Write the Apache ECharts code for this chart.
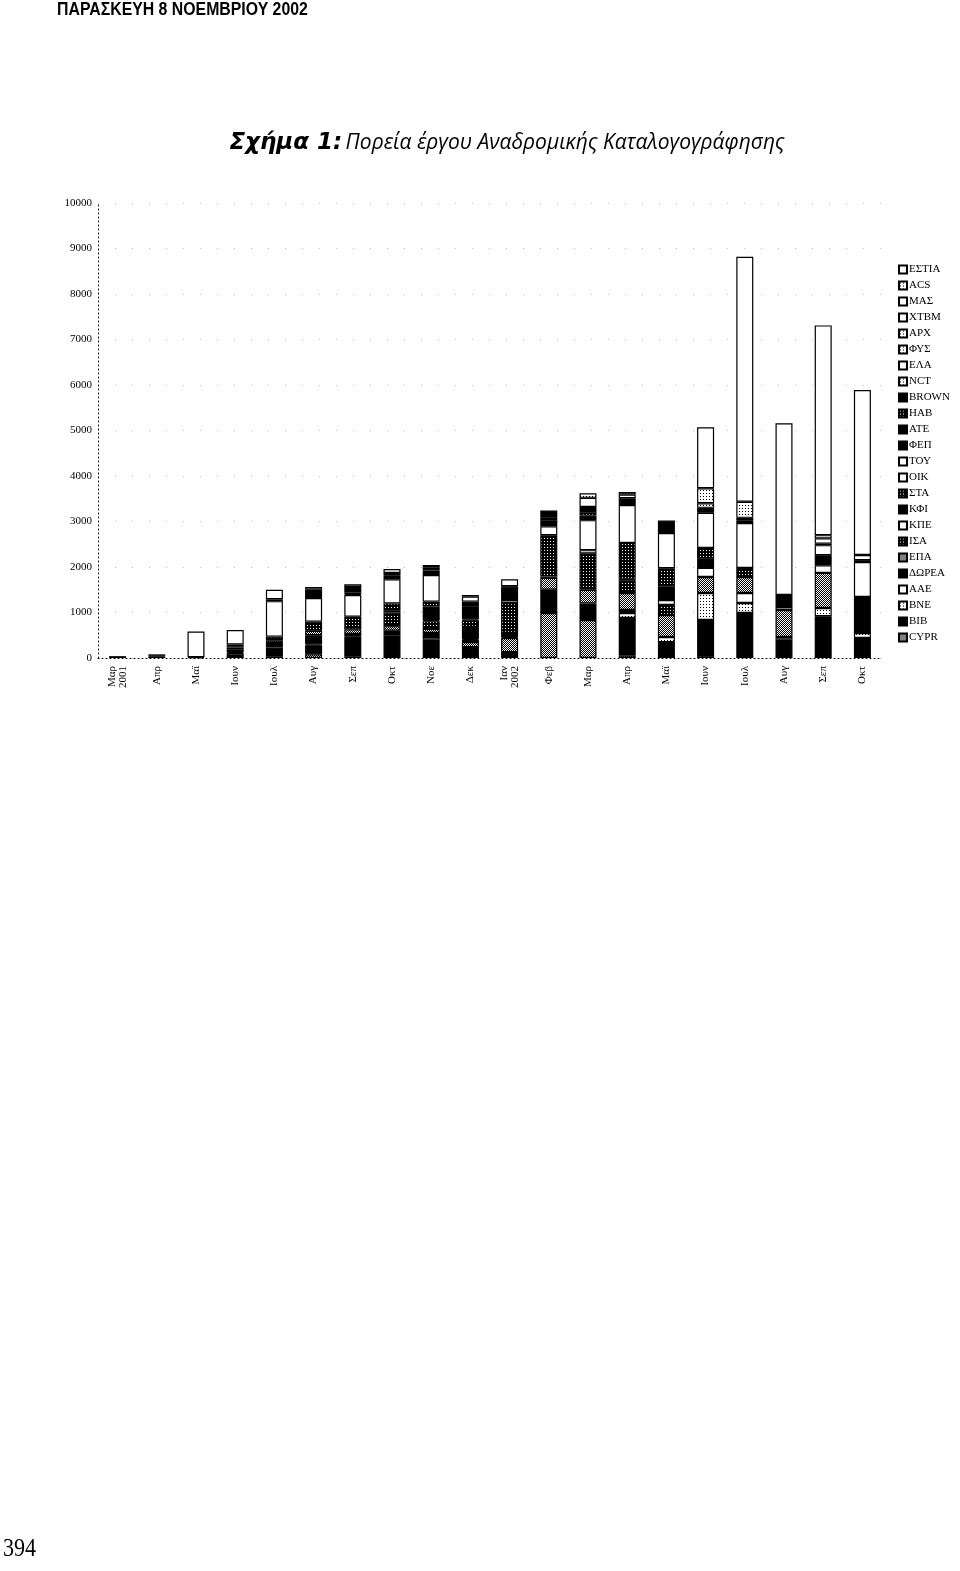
<!DOCTYPE html>
<html><head><meta charset="utf-8">
<script src="https://cdn.jsdelivr.net/npm/echarts@6/dist/echarts.min.js"></script>
<style>html,body{margin:0;padding:0;background:#fff}#c{width:960px;height:1571px}</style>
</head><body><div id="c"></div>
<script>
const categories = ['Μαρ\n2001','Απρ','Μαϊ','Ιουν','Ιουλ','Αυγ','Σεπ','Οκτ','Νοε','Δεκ','Ιαν\n2002','Φεβ','Μαρ','Απρ','Μαϊ','Ιουν','Ιουλ','Αυγ','Σεπ','Οκτ'];
const yTicks = [0,1000,2000,3000,4000,5000,6000,7000,8000,9000,10000];

// series values (bottom of stack first)
const vCYPR  = [0,0,0,0,30,80,30,0,0,0,0,990,835,60,0,40,0,0,0,0];
const vBIB   = [40,30,20,80,200,200,450,500,400,240,130,510,365,820,350,795,990,400,920,440];
const vBNE   = [0,20,0,30,0,20,0,0,60,0,0,0,0,110,110,595,220,60,180,110];
const vAAE   = [0,0,0,20,0,0,0,0,0,0,0,0,0,0,0,0,220,0,0,0];
const vDOREA = [0,30,0,60,100,200,50,100,90,0,0,0,0,65,0,0,0,0,0,790];
const vEPA   = [0,0,0,0,60,100,100,100,90,110,310,260,300,375,485,350,350,595,770,0];
const vISA   = [0,0,0,40,80,200,275,300,170,50,0,0,800,280,220,0,200,0,0,0];
const vKPE   = [0,0,560,30,780,520,480,0,20,20,20,30,70,30,110,200,985,65,170,770];
const vKFI   = [0,0,0,40,40,180,20,50,300,260,90,0,0,0,300,200,65,265,220,40];
const vSTA   = [0,0,0,0,0,0,0,150,110,150,660,910,0,790,400,240,0,0,0,0];
const vOIK   = [0,0,0,315,210,60,40,530,585,20,65,195,660,0,770,770,0,0,220,115];
const vTOY   = [0,0,0,0,0,0,0,0,0,0,0,0,0,830,0,0,0,0,0,0];
const vFEP   = [0,0,0,0,0,0,115,90,100,290,265,120,100,150,275,110,50,0,30,0];
const vATE   = [0,0,0,0,0,0,0,0,60,0,0,80,0,0,0,0,0,0,0,0];
const vHAB   = [0,0,0,0,0,0,0,0,0,0,0,0,60,0,0,0,0,0,0,0];
const vBROWN = [0,0,0,0,0,0,0,50,60,100,0,145,130,0,0,0,0,0,0,0];
const vNCT   = [0,0,0,0,0,0,0,0,0,0,0,0,0,0,0,100,0,0,0,0];
const vELA   = [0,0,0,0,0,0,60,85,0,110,40,0,200,80,0,0,0,0,120,0];
const vFYS   = [0,0,0,0,0,0,0,0,0,0,0,0,0,60,0,0,0,0,0,0];
const vARX   = [0,0,0,0,0,0,0,0,0,0,0,0,100,0,0,0,0,0,0,0];
const vXTBM  = [0,0,0,0,0,0,0,0,0,35,150,0,0,0,0,0,0,0,0,0];
const vMAS   = [0,0,0,0,0,0,0,0,0,0,0,0,0,0,0,0,0,0,70,0];
const vACS   = [0,0,0,0,0,0,0,0,0,0,0,0,0,0,0,330,355,0,0,0];
const vESTIA = [0,0,0,0,0,0,0,0,0,0,0,0,0,0,0,1340,5385,3775,4610,3625];

const stackOrder = [
  ['CYPR',vCYPR,'MP'],['ΒΙΒ',vBIB,'B'],['ΒΝΕ',vBNE,'LP'],['ΑΑΕ',vAAE,'W'],
  ['ΔΩΡΕΑ',vDOREA,'B'],['ΕΠΑ',vEPA,'MP'],['ΙΣΑ',vISA,'DP'],['ΚΠΕ',vKPE,'W'],
  ['ΚΦΙ',vKFI,'B'],['ΣΤΑ',vSTA,'DP'],['ΟΙΚ',vOIK,'W'],['ΤΟΥ',vTOY,'W'],
  ['ΦΕΠ',vFEP,'B'],['ΑΤΕ',vATE,'B'],['ΗΑΒ',vHAB,'DP'],['BROWN',vBROWN,'B'],
  ['NCT',vNCT,'LP'],['ΕΛΑ',vELA,'W'],['ΦΥΣ',vFYS,'LP'],['ΑΡΧ',vARX,'LP'],
  ['ΧΤΒΜ',vXTBM,'W'],['ΜΑΣ',vMAS,'W'],['ACS',vACS,'LP'],['ΕΣΤΙΑ',vESTIA,'W']
];
const legendOrder = ['ΕΣΤΙΑ','ACS','ΜΑΣ','ΧΤΒΜ','ΑΡΧ','ΦΥΣ','ΕΛΑ','NCT','BROWN','ΗΑΒ','ΑΤΕ','ΦΕΠ','ΤΟΥ','ΟΙΚ','ΣΤΑ','ΚΦΙ','ΚΠΕ','ΙΣΑ','ΕΠΑ','ΔΩΡΕΑ','ΑΑΕ','ΒΝΕ','ΒΙΒ','CYPR'];

function pat(bg, fg, size, pts){
  const c = document.createElement('canvas'); c.width = size; c.height = size;
  const g = c.getContext('2d'); g.fillStyle = bg; g.fillRect(0,0,size,size);
  g.fillStyle = fg; pts.forEach(p => g.fillRect(p[0],p[1],1,1));
  return {image:c, repeat:'repeat'};
}
const fills = {
  W:'#ffffff', B:'#000000',
  DP: pat('#000','#fff',3,[[1,1]]),
  MP: pat('#000','#fff',2,[[0,0],[1,1]]),
  LP: pat('#fff','#000',3,[[1,1]])
};

const series = stackOrder.map(([name, vals, f]) => ({
  name, type:'bar', stack:'total', barWidth:17,
  data: vals.map(v => v === 0 ? '-' : v),
  itemStyle:{color:fills[f], borderColor:'#000', borderWidth:1.2},
  emphasis:{disabled:true}
}));

const chart = echarts.init(document.getElementById('c'), null, {renderer:'canvas'});
chart.setOption({
  animation:false,
  backgroundColor:'#fff',
  grid:{left:98, right:78, top:203, bottom:913, containLabel:false},
  xAxis:{type:'category', data:categories,
    axisLine:{show:true, lineStyle:{color:'#000', type:[1,3], width:1}},
    axisTick:{show:false},
    axisLabel:{rotate:90, interval:0, margin:8, color:'#000', fontSize:11, lineHeight:11, fontFamily:'"Liberation Serif", serif'}},
  yAxis:{type:'value', min:0, max:10000, interval:1000,
    axisLine:{show:true, lineStyle:{color:'#000', type:[1,3], width:1}},
    axisTick:{show:false},
    splitLine:{show:true, lineStyle:{color:'#bbb', type:[1,16], width:1}},
    axisLabel:{margin:6, color:'#000', fontSize:11, fontFamily:'"Liberation Serif", serif',
      formatter: v => yTicks.includes(v) ? String(v) : ''}},
  legend:{orient:'vertical', left:893, top:258, itemWidth:8, itemHeight:8, itemGap:3,
    icon:'rect', data:legendOrder, selectedMode:false,
    textStyle:{color:'#000', fontSize:11, lineHeight:13, fontFamily:'"Liberation Serif", serif', padding:[0,0,0,-3]}},
  graphic:[
    {type:'text', left:57, top:1, scaleX:0.88, style:{text:'ΠΑΡΑΣΚΕΥΗ 8 ΝΟΕΜΒΡΙΟΥ 2002', fill:'#000',
      fontSize:18, fontWeight:'bold', fontFamily:'"Liberation Sans Narrow", "Liberation Sans", sans-serif'}},
    {type:'text', x:507, y:143, style:{
      text:'{b|Σχήμα 1:} {n|Πορεία έργου Αναδρομικής Καταλογογράφησης}',
      align:'center', verticalAlign:'middle', textAlign:'center', textVerticalAlign:'middle',
      rich:{
        b:{fontSize:23, fontWeight:'bold', fontStyle:'italic', fontFamily:'"DejaVu Sans", sans-serif', fill:'#000'},
        n:{fontSize:21, fontStyle:'italic', fontFamily:'"Open Sans", sans-serif', fill:'#000'}
      }}},
    {type:'text', x:3, y:1536, scaleX:0.85, style:{text:'394', fill:'#000', fontSize:26, fontFamily:'"Liberation Serif", serif'}}
  ],
  series
});
</script></body></html>
